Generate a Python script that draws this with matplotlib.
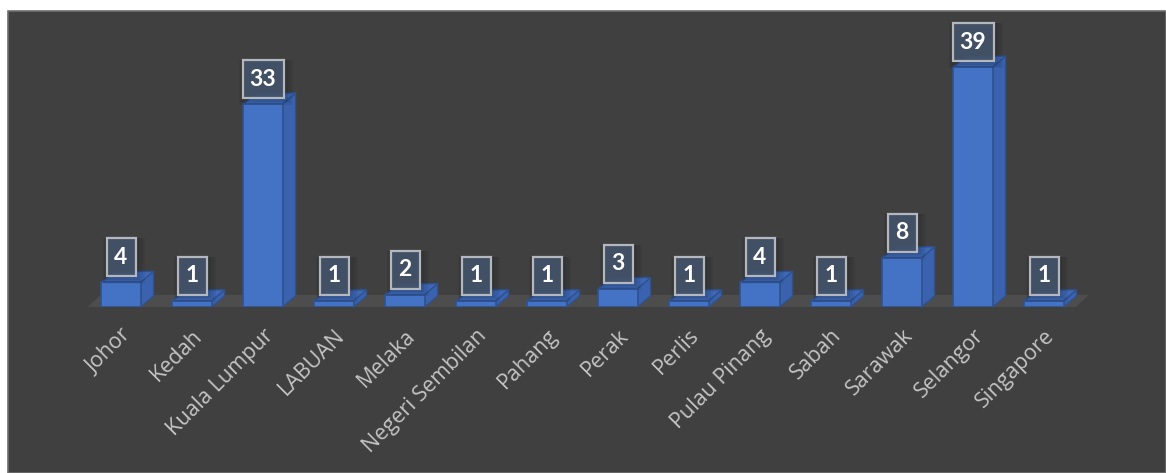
"""Bar chart of record counts per state, drawn with a flat pseudo-3D look."""
import matplotlib.pyplot as plt
from matplotlib.patches import Polygon, Rectangle

states = ["Johor", "Kedah", "Kuala Lumpur", "LABUAN", "Melaka", "Negeri Sembilan",
          "Pahang", "Perak", "Perlis", "Pulau Pinang", "Sabah", "Sarawak",
          "Selangor", "Singapore"]
counts = [4, 1, 33, 1, 2, 1, 1, 3, 1, 4, 1, 8, 39, 1]

W, H, DPI = 1166, 473, 100
BG = "#404040"
FRONT = "#4472C4"
EDGE = "#2F528F"
SIDE = "#3A62AE"
TOP = "#3E69B8"
FLOOR = "#4D4D4D"

plt.rcParams["font.family"] = ["Open Sans", "DejaVu Sans"]

fig = plt.figure(figsize=(W / DPI, H / DPI), dpi=DPI)
fig.patch.set_facecolor("white")
# dark panel behind the plot (negative zorder so it sits under the axes)
fig.patches.append(Rectangle((8 / W, 0), 1 - 8 / W, 1 - 11 / H,
                             transform=fig.transFigure, facecolor=BG,
                             edgecolor="#6E6E6E", linewidth=1.2, zorder=-1))

# axes placed so that one bar slot is ~71 px and one unit ~6.15 px
left_px, right_px = 85.5, 1079.5
base_px, top_px = 307, 20
ax = fig.add_axes([left_px / W, (H - base_px) / H,
                   (right_px - left_px) / W, (base_px - top_px) / H])
ax.set_facecolor("none")
ax.set_xlim(-0.5, 13.5)
ymax = (base_px - top_px) / 6.15
ax.set_ylim(0, ymax)
for s in ax.spines.values():
    s.set_visible(False)
ax.set_yticks([])

px_x = 1.0 / 71.0          # data units per pixel, x
px_y = ymax / (base_px - top_px)  # data units per pixel, y
dx, dy = 13 * px_x, 11 * px_y
bw = 0.55

# floor slab
fx0, fx1 = -0.47, 13.45
ax.add_patch(Polygon([(fx0, 0), (fx1, 0), (fx1 + dx, dy * 1.1), (fx0 + dx, dy * 1.1)],
                     closed=True, facecolor=FLOOR, edgecolor="none", zorder=1,
                     clip_on=False))

bars = ax.bar(range(len(states)), counts, width=bw, color=FRONT,
              edgecolor=EDGE, linewidth=1.2, zorder=3)

for i, v in enumerate(counts):
    x0, x1 = i - bw / 2, i + bw / 2
    ax.add_patch(Polygon([(x1, 0), (x1 + dx, dy), (x1 + dx, v + dy), (x1, v)],
                         closed=True, facecolor=SIDE, edgecolor=EDGE,
                         linewidth=1.0, zorder=2, clip_on=False))
    ax.add_patch(Polygon([(x0, v), (x1, v), (x1 + dx, v + dy), (x0 + dx, v + dy)],
                         closed=True, facecolor=TOP, edgecolor=EDGE,
                         linewidth=1.0, zorder=2, clip_on=False))

    # value label box with a soft shadow
    txt = str(v)
    box_w = (29 if len(txt) == 1 else 41) * px_x
    box_h = 38 * px_y
    bx, by = i - box_w / 2, v + 6 * px_y
    for k, a in enumerate([0.06, 0.06, 0.07, 0.08]):
        g = (8 - 2 * k)
        ax.add_patch(Rectangle((bx - g * px_x * 0.4, by - g * px_y * 0.9),
                               box_w + g * px_x * 1.6, box_h + g * px_y * 0.9,
                               facecolor="black", alpha=a, edgecolor="none",
                               zorder=4, clip_on=False))
    ax.add_patch(Rectangle((bx, by), box_w, box_h, facecolor="#44546A", alpha=0.9,
                           edgecolor="none", zorder=5, clip_on=False))
    ax.add_patch(Rectangle((bx, by), box_w, box_h, facecolor="none",
                           edgecolor="#B4B8BE", linewidth=1.6, zorder=6,
                           clip_on=False))
    ax.text(i, by + box_h / 2, txt, ha="center", va="center", color="white",
            fontsize=16.5, fontweight="bold", family=["Lato", "DejaVu Sans"],
            zorder=7)

ax.set_xticks(range(len(states)))
ax.set_xticklabels(states, rotation=45, ha="right", va="top",
                   rotation_mode="anchor", color="#C4C4C4", fontsize=15.5)
ax.tick_params(axis="x", length=0, pad=13)

fig.savefig("out.png", dpi=DPI)
